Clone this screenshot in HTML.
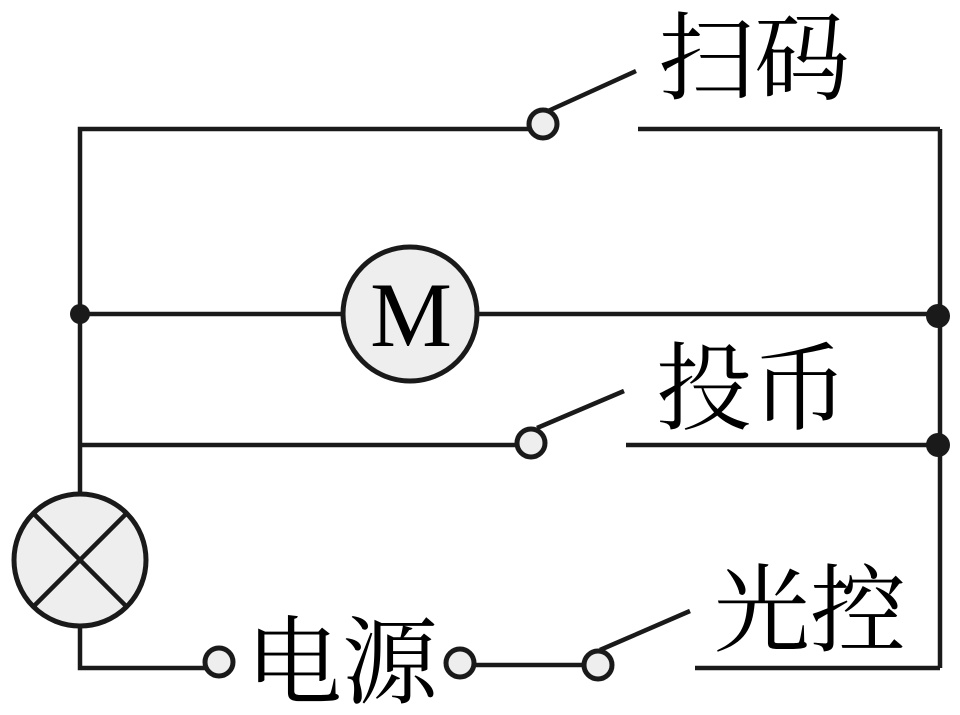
<!DOCTYPE html>
<html><head><meta charset="utf-8"><style>
html,body{margin:0;padding:0;background:#fff;}
svg{display:block;}
text{font-family:"Noto Serif CJK SC","Liberation Serif",serif;fill:#000;}
</style></head><body>
<svg width="960" height="715" viewBox="0 0 960 715" xmlns="http://www.w3.org/2000/svg">
<g stroke="#1a1a1a" stroke-width="4.5" fill="none">
<polyline points="80,495 80,129 530,129"/>
<line x1="638" y1="129" x2="940" y2="129"/>
<line x1="548" y1="111" x2="636" y2="71"/>
<line x1="940" y1="129" x2="940" y2="668"/>
<line x1="80" y1="314" x2="343" y2="314"/>
<line x1="477" y1="314" x2="940" y2="314"/>
<line x1="80" y1="445" x2="517" y2="445"/>
<line x1="626" y1="445" x2="940" y2="445"/>
<line x1="537" y1="428" x2="624" y2="391"/>
<polyline points="80,626 80,668 205,668"/>
<line x1="474" y1="665" x2="584" y2="665"/>
<line x1="600" y1="650" x2="690" y2="611"/>
<line x1="695" y1="668" x2="940" y2="668"/>
</g>
<g stroke="#1a1a1a" stroke-width="5" fill="#eeeeee">
<circle cx="543" cy="124" r="14"/>
<circle cx="531" cy="443" r="14"/>
<circle cx="219" cy="662" r="14"/>
<circle cx="460" cy="663" r="14"/>
<circle cx="598" cy="665" r="14"/>
</g>
<circle cx="410" cy="314" r="67" stroke="#1a1a1a" stroke-width="5" fill="#eeeeee"/>
<text x="411" y="346" font-size="92" text-anchor="middle" style="font-family:'Liberation Serif',serif">M</text>
<circle cx="80" cy="560" r="66" stroke="#1a1a1a" stroke-width="5" fill="#eeeeee"/>
<g stroke="#1a1a1a" stroke-width="4.5">
<line x1="33" y1="513" x2="127" y2="607"/>
<line x1="127" y1="513" x2="33" y2="607"/>
</g>
<g fill="#1a1a1a">
<circle cx="80" cy="314" r="10"/>
<circle cx="938" cy="316" r="12"/>
<circle cx="938" cy="445" r="12"/>
</g>
<text x="658" y="92" font-size="96">扫码</text>
<text x="656" y="422" font-size="96">投币</text>
<text x="714" y="644" font-size="96">光控</text>
<text x="246" y="696" font-size="96">电源</text>
</svg>
</body></html>
